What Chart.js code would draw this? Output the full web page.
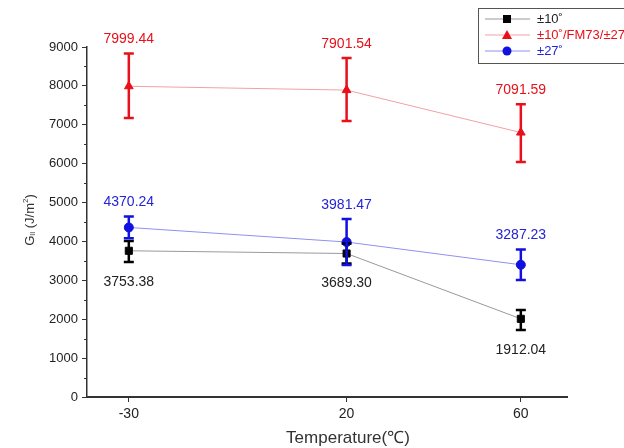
<!DOCTYPE html>
<html>
<head>
<meta charset="utf-8">
<script src="https://cdn.jsdelivr.net/npm/chart.js@4"></script>
<style>
  html, body { margin: 0; padding: 0; background: #fff; }
  #wrap { width: 624px; height: 448px; }
</style>
</head>
<body>
<div id="wrap"><canvas id="c" width="624" height="448"></canvas></div>
<script>
// temperatures (x positions) and tick values
const temps = [-30, 20, 60];
const yTicksMajor = [0, 1000, 2000, 3000, 4000, 5000, 6000, 7000, 8000, 9000];

// series: plotted means, error bar low/high, printed labels
const blackMean = [3760, 3690, 2010];
const blackLow = [3470, 3430, 1722];
const blackHigh = [4010, 3950, 2237];
const blackText = ['3753.38', '3689.30', '1912.04'];

const redMean = [7990, 7892, 6800];
const redLow = [7172, 7095, 6041];
const redHigh = [8830, 8720, 7530];
const redText = ['7999.44', '7901.54', '7091.59'];

const blueMean = [4360, 3985, 3400];
const blueLow = [4080, 3393, 3008];
const blueHigh = [4640, 4580, 3790];
const blueText = ['4370.24', '3981.47', '3287.23'];

const legendLabels = ['±10˚', '±10˚/FM73/±27˚', '±27˚'];

const FONT = 'Liberation Sans, Arial, sans-serif';

function pts(means) {
  return temps.map((t, i) => ({ x: t, y: means[i] }));
}

// Error bars and value labels
const errorBarPlugin = {
  id: 'errorBars',
  afterDatasetsDraw(chart) {
    const ctx = chart.ctx;
    const xs = chart.scales.x, ys = chart.scales.y;
    chart.data.datasets.forEach((ds) => {
      ctx.save();
      ctx.strokeStyle = ds.barColor;
      ctx.lineWidth = 2.5;
      temps.forEach((t, i) => {
        const px = xs.getPixelForValue(t);
        const top = ys.getPixelForValue(ds.errHigh[i]);
        const bot = ys.getPixelForValue(ds.errLow[i]);
        ctx.beginPath();
        ctx.moveTo(px, top); ctx.lineTo(px, bot);
        ctx.moveTo(px - 5, top); ctx.lineTo(px + 5, top);
        ctx.moveTo(px - 5, bot); ctx.lineTo(px + 5, bot);
        ctx.stroke();
        ctx.fillStyle = ds.textColor;
        ctx.font = '14px ' + FONT;
        ctx.textAlign = 'center';
        ctx.textBaseline = 'middle';
        const ty = ds.labelBelow ? bot + 20 : top - 14;
        ctx.fillText(ds.valueText[i], px, ty);
      });
      ctx.restore();
    });
  }
};

// Minor ticks, axis titles, legend box
const decorPlugin = {
  id: 'decor',
  afterDraw(chart) {
    const ctx = chart.ctx;
    const ys = chart.scales.y;
    const area = chart.chartArea;
    ctx.save();
    ctx.strokeStyle = '#333';
    ctx.lineWidth = 1;
    for (let v = 500; v < 9000; v += 1000) {
      const py = Math.round(ys.getPixelForValue(v)) + 0.5;
      ctx.beginPath();
      ctx.moveTo(area.left - 3, py); ctx.lineTo(area.left, py);
      ctx.stroke();
    }
    // x title
    ctx.fillStyle = '#333';
    ctx.font = '17px ' + FONT;
    ctx.textAlign = 'center';
    ctx.textBaseline = 'middle';
    ctx.fillText('Temperature(℃)', 348, 438);
    // y title (rotated)
    ctx.translate(30, 220);
    ctx.rotate(-Math.PI / 2);
    ctx.textAlign = 'left';
    const parts = [['G', 13, 0], ['II', 7, 3], [' (J/m', 13, 0], ['2', 8, -4], [')', 13, 0]];
    let total = 0;
    parts.forEach(p => { ctx.font = p[1] + 'px ' + FONT; total += ctx.measureText(p[0]).width; });
    let cx = -total / 2;
    parts.forEach(p => {
      ctx.font = p[1] + 'px ' + FONT;
      ctx.fillText(p[0], cx, p[2]);
      cx += ctx.measureText(p[0]).width;
    });
    ctx.restore();

    // legend
    ctx.save();
    ctx.strokeStyle = '#555';
    ctx.lineWidth = 1;
    ctx.strokeRect(478.5, 8.5, 160, 55);
    chart.data.datasets.forEach((ds, i) => {
      const ly = 19 + i * 16;
      ctx.strokeStyle = ds.borderColor;
      ctx.lineWidth = 1;
      ctx.beginPath();
      ctx.moveTo(485, ly); ctx.lineTo(530, ly);
      ctx.stroke();
      ctx.fillStyle = ds.pointBackgroundColor;
      const mx = 507;
      ctx.beginPath();
      if (ds.pointStyle === 'rect') {
        ctx.rect(mx - 4, ly - 4, 8, 8);
      } else if (ds.pointStyle === 'triangle') {
        ctx.moveTo(mx, ly - 5); ctx.lineTo(mx + 5, ly + 4); ctx.lineTo(mx - 5, ly + 4); ctx.closePath();
      } else {
        ctx.arc(mx, ly, 4.5, 0, Math.PI * 2);
      }
      ctx.fill();
      ctx.fillStyle = ds.textColor;
      ctx.font = '13px ' + FONT;
      ctx.textAlign = 'left';
      ctx.textBaseline = 'middle';
      ctx.fillText(ds.label, 537, ly);
    });
    ctx.restore();
  }
};

new Chart(document.getElementById('c'), {
  type: 'line',
  data: {
    datasets: [
      {
        label: legendLabels[0],
        data: pts(blackMean),
        borderColor: '#999',
        borderWidth: 1,
        pointStyle: 'rect',
        pointRadius: 5,
        pointBackgroundColor: '#000',
        pointBorderColor: '#000',
        barColor: '#000',
        textColor: '#222',
        errLow: blackLow, errHigh: blackHigh,
        valueText: blackText, labelBelow: true
      },
      {
        label: legendLabels[1],
        data: pts(redMean),
        borderColor: '#f5a0a0',
        borderWidth: 1,
        pointStyle: 'triangle',
        pointRadius: 5,
        pointBackgroundColor: '#e8101a',
        pointBorderColor: '#e8101a',
        barColor: '#e8101a',
        textColor: '#e8101a',
        errLow: redLow, errHigh: redHigh,
        valueText: redText, labelBelow: false
      },
      {
        label: legendLabels[2],
        data: pts(blueMean),
        borderColor: '#9090f0',
        borderWidth: 1,
        pointStyle: 'circle',
        pointRadius: 4.5,
        pointBackgroundColor: '#1010e0',
        pointBorderColor: '#1010e0',
        barColor: '#1010e0',
        textColor: '#2424d8',
        errLow: blueLow, errHigh: blueHigh,
        valueText: blueText, labelBelow: false
      }
    ]
  },
  options: {
    responsive: false,
    animation: false,
    layout: { padding: { left: 0, right: 57, top: 47, bottom: 0 } },
    plugins: { legend: { display: false }, tooltip: { enabled: false } },
    scales: {
      x: {
        type: 'linear',
        min: -39.6,
        max: 70.6,
        afterBuildTicks: (s) => { s.ticks = temps.map(v => ({ value: v })); },
        afterFit: (s) => { s.height = 51; },
        grid: { display: true, drawOnChartArea: false, tickLength: 5, color: '#333' },
        border: { display: true, color: '#333', width: 2 },
        ticks: { color: '#222', font: { family: FONT, size: 14 }, padding: 4, maxRotation: 0 }
      },
      y: {
        min: 0,
        max: 9000,
        afterBuildTicks: (s) => { s.ticks = yTicksMajor.map(v => ({ value: v })); },
        afterFit: (s) => { s.width = 87; },
        grid: { display: true, drawOnChartArea: false, tickLength: 5, color: '#333' },
        border: { display: true, color: '#333', width: 1.5 },
        ticks: {
          color: '#222', font: { family: FONT, size: 13 }, padding: 4,
          callback: (v) => String(v)
        }
      }
    }
  },
  plugins: [errorBarPlugin, decorPlugin]
});
</script>
</body>
</html>
